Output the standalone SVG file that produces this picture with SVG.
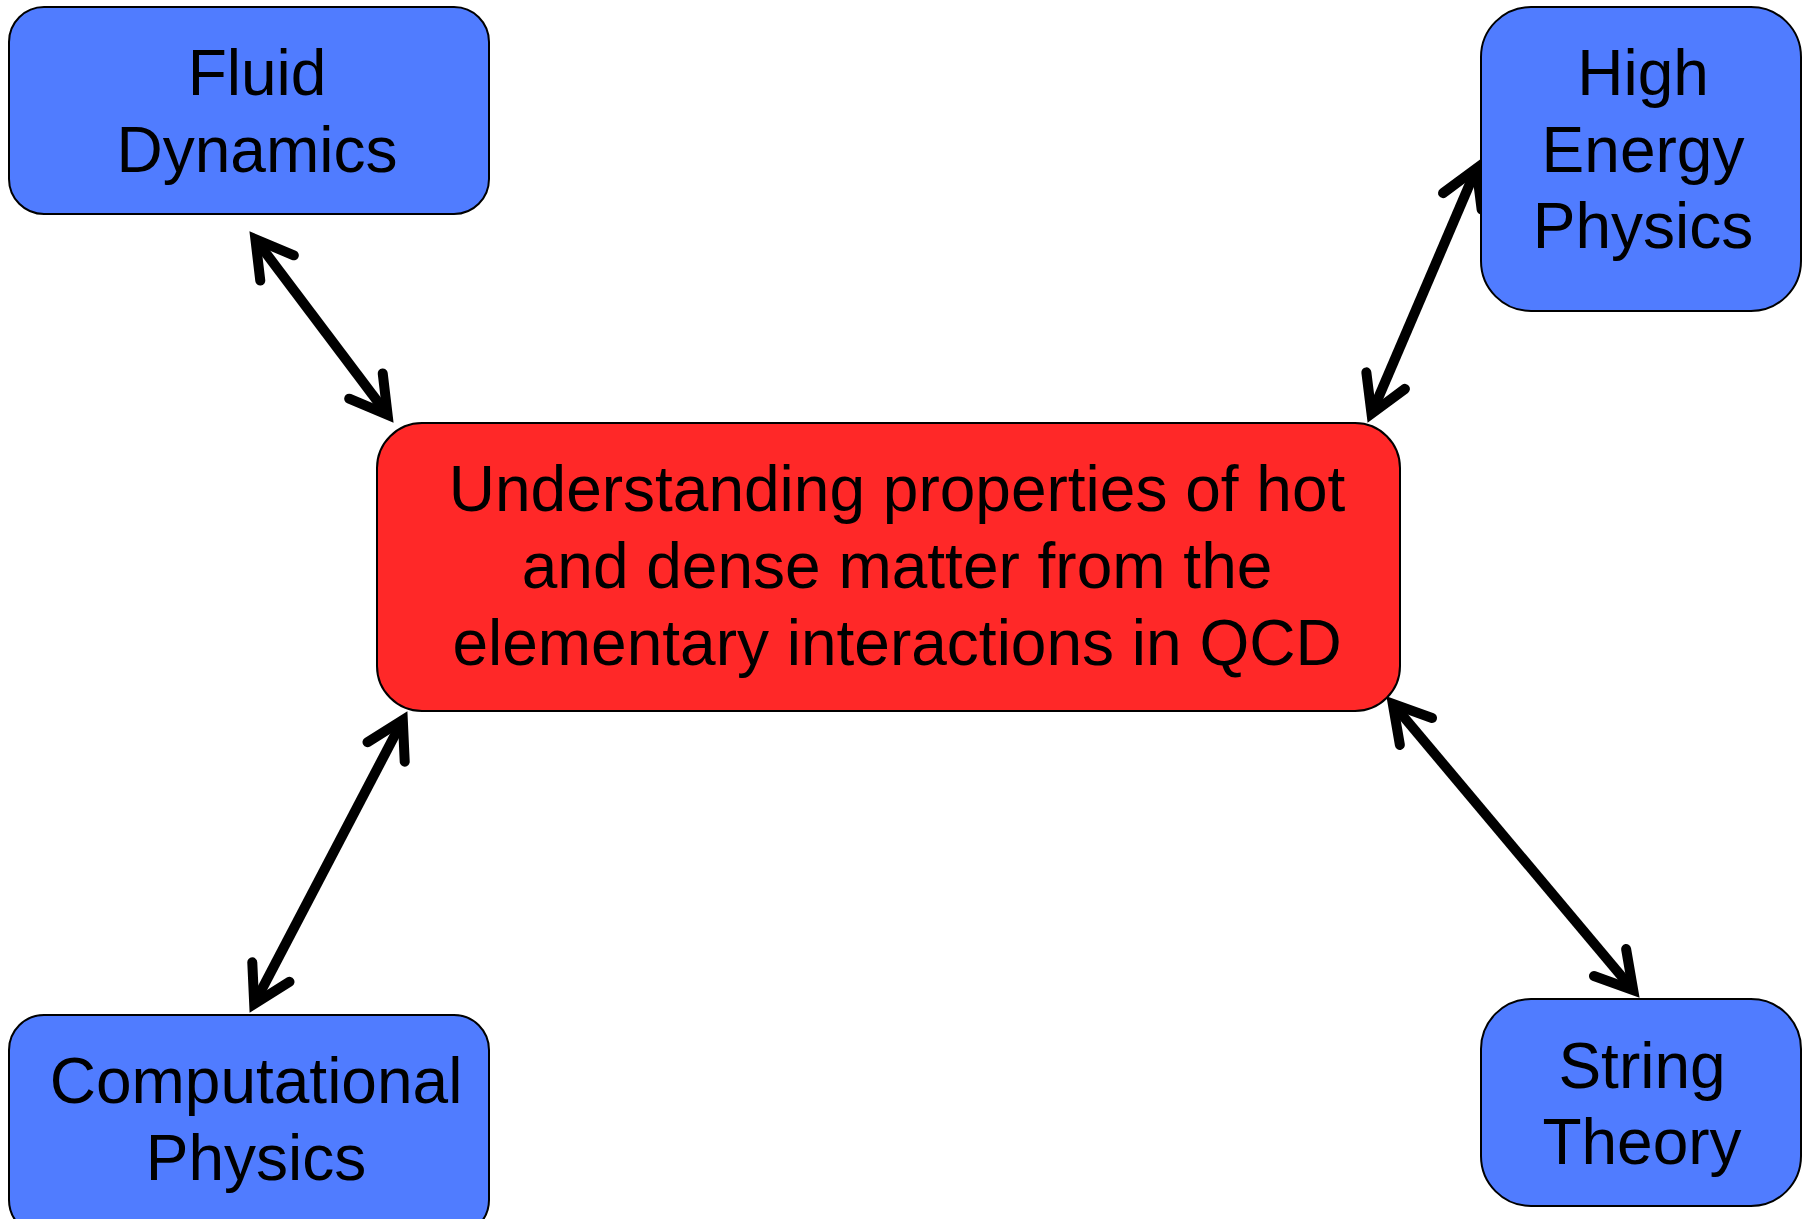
<svg xmlns="http://www.w3.org/2000/svg" width="1808" height="1219" viewBox="0 0 1808 1219">
  <style>
    .blue { fill: #507CFF; stroke: #000; stroke-width: 2; }
    .red { fill: #FF2828; stroke: #000; stroke-width: 2; }
    .lbl { font-family: "Liberation Sans", Arial, sans-serif; font-size: 64px; fill: #000; text-anchor: middle; }
    .conn { stroke: #000; stroke-width: 10; fill: none; marker-start: url(#head); marker-end: url(#head); }
  </style>
  <defs>
    <marker id="head" markerUnits="userSpaceOnUse" viewBox="-60 -40 80 80" markerWidth="80" markerHeight="80" refX="0" refY="0" orient="auto-start-reverse" overflow="visible">
      <path d="M -36,-21 L 0,0 L -36,21" fill="none" stroke="#000" stroke-width="10" stroke-linecap="round" stroke-linejoin="miter" stroke-miterlimit="10"/>
    </marker>
  </defs>
  <rect width="1808" height="1219" fill="#fff"/>

  <g id="connectors">
    <line class="conn" x1="255.4" y1="239.2" x2="387.6" y2="414.8"/>
    <line class="conn" x1="1476.5" y1="168.3" x2="1371.5" y2="413.7"/>
    <line class="conn" x1="254.2" y1="1004" x2="402.8" y2="720"/>
    <line class="conn" x1="1392.8" y1="703.9" x2="1633.2" y2="990.1"/>
  </g>

  <g id="fluid-dynamics">
    <rect class="blue" x="9" y="7" width="480" height="207" rx="35" ry="35"/>
    <text class="lbl" x="257" y="95">Fluid</text>
    <text class="lbl" x="257" y="172">Dynamics</text>
  </g>

  <g id="high-energy-physics">
    <rect class="blue" x="1481" y="7" width="320" height="304" rx="50" ry="50"/>
    <text class="lbl" x="1643" y="95">High</text>
    <text class="lbl" x="1643" y="172">Energy</text>
    <text class="lbl" x="1643" y="248">Physics</text>
  </g>

  <g id="central">
    <rect class="red" x="377" y="423" width="1023" height="288" rx="45" ry="45"/>
    <text class="lbl" x="897" y="511">Understanding properties of hot</text>
    <text class="lbl" x="897" y="588">and dense matter from the</text>
    <text class="lbl" x="897" y="665">elementary interactions in QCD</text>
  </g>

  <g id="computational-physics">
    <rect class="blue" x="9" y="1015" width="480" height="220" rx="35" ry="35"/>
    <text class="lbl" x="256" y="1103">Computational</text>
    <text class="lbl" x="256" y="1180">Physics</text>
  </g>

  <g id="string-theory">
    <rect class="blue" x="1481" y="999" width="320" height="207" rx="50" ry="50"/>
    <text class="lbl" x="1642" y="1088">String</text>
    <text class="lbl" x="1642" y="1164">Theory</text>
  </g>
</svg>
